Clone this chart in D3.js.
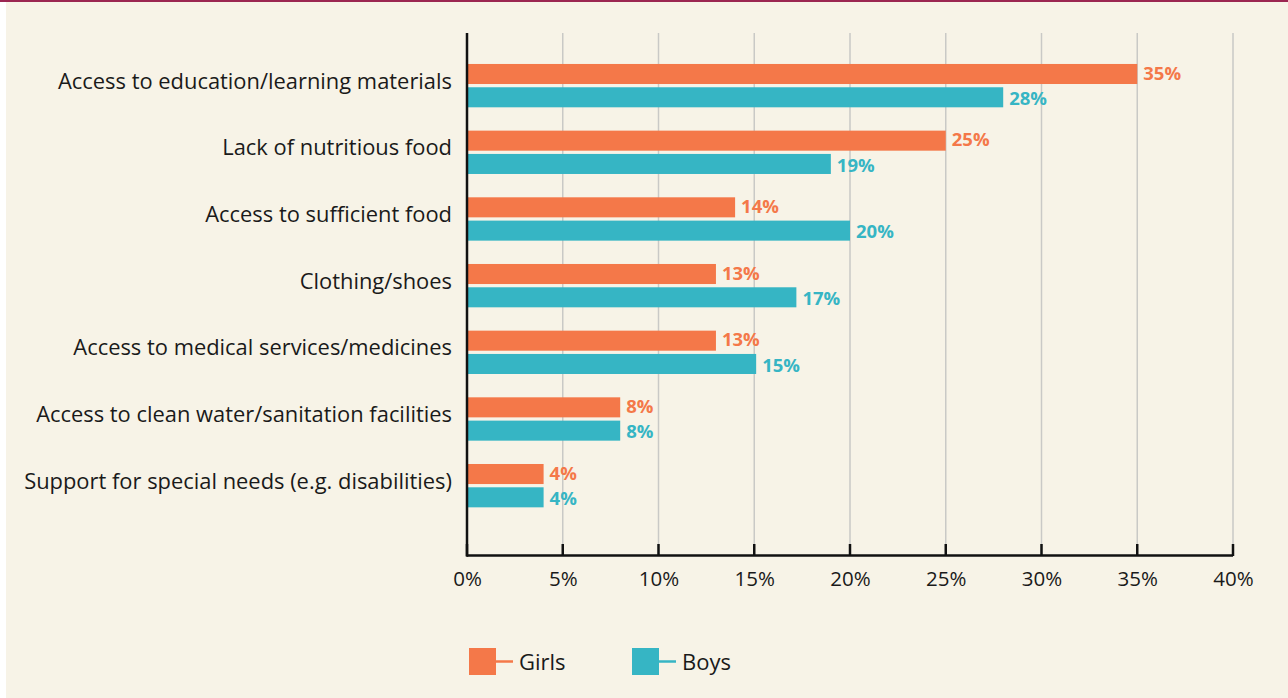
<!DOCTYPE html>
<html>
<head>
<meta charset="utf-8">
<script src="https://cdn.jsdelivr.net/npm/d3@7"></script>
<style>
  body { margin: 0; background: #ffffff; }
  text { font-family: "Open Sans", "Noto Sans", sans-serif; }
</style>
</head>
<body>
<script>
// DATA
const categories = [
    "Access to education/learning materials",
    "Lack of nutritious food",
    "Access to sufficient food",
    "Clothing/shoes",
    "Access to medical services/medicines",
    "Access to clean water/sanitation facilities",
    "Support for special needs (e.g. disabilities)"
];
const seriesNames = ["Girls", "Boys"];
const girls = [35, 25, 14, 13, 13, 8, 4];
const boys = [28, 19, 20, 17.2, 15.1, 8, 4];
const girlsLabels = ["35%", "25%", "14%", "13%", "13%", "8%", "4%"];
const boysLabels = ["28%", "19%", "20%", "17%", "15%", "8%", "4%"];
const xTicks = [0, 5, 10, 15, 20, 25, 30, 35, 40];

const colors = {Girls: "#f47849", Boys: "#36b5c4"};

// DIMENSIONS
const W = 1288, H = 698;
const margin = {left: 467, right: 55, top: 33, bottom: 142};

const svg = d3.select("body").append("svg")
    .attr("width", W)
    .attr("height", H);

// BACKGROUND + TOP BORDER
svg.append("rect").attr("x", 6).attr("y", 0).attr("width", W - 6).attr("height", H).attr("fill", "#f7f3e7");
svg.append("rect").attr("x", 0).attr("y", 0).attr("width", W).attr("height", 2).attr("fill", "#9b2651");

// SCALES
const x = d3.scaleLinear().domain([0, 40]).range([467, 1233]);

const y = d3.scaleBand()
    .domain(categories)
    .range([52.3, 519])
    .paddingInner(0.35)
    .paddingOuter(0.175);

const ySub = d3.scaleBand()
    .domain(seriesNames)
    .range([0, y.bandwidth()])
    .paddingInner(0.14);

// GRIDLINES
svg.append("g").selectAll("line")
    .data(xTicks.slice(1))
    .join("line")
    .attr("x1", d => x(d)).attr("x2", d => x(d))
    .attr("y1", margin.top).attr("y2", 556)
    .attr("stroke", "#c9c9c6")
    .attr("stroke-width", 1.5);

// BARS
const rows = categories.map((c, i) => ({
    cat: c,
    vals: [
        {s: "Girls", v: girls[i], lab: girlsLabels[i]},
        {s: "Boys", v: boys[i], lab: boysLabels[i]}
    ]
}));

const grp = svg.append("g").selectAll("g")
    .data(rows)
    .join("g")
    .attr("transform", d => `translate(0, ${y(d.cat)})`);

grp.selectAll("rect")
    .data(d => d.vals)
    .join("rect")
    .attr("x", x(0))
    .attr("y", d => ySub(d.s))
    .attr("width", d => x(d.v) - x(0))
    .attr("height", ySub.bandwidth())
    .attr("fill", d => colors[d.s]);

// value labels, nudged apart a touch so the pair doesn't collide
grp.selectAll("text.val")
    .data(d => d.vals)
    .join("text")
    .attr("class", "val")
    .attr("x", d => x(d.v) + 6)
    .attr("y", d => ySub(d.s) + ySub.bandwidth() / 2 + (d.s === "Girls" ? -1 : 1))
    .attr("dy", "0.36em")
    .attr("font-size", 18.5)
    .attr("font-weight", "bold")
    .attr("fill", d => colors[d.s])
    .text(d => d.lab);

// CATEGORY LABELS
svg.append("g").selectAll("text")
    .data(categories)
    .join("text")
    .attr("x", 452)
    .attr("y", d => y(d) + y.bandwidth() / 2 - 4.5)
    .attr("dy", "0.35em")
    .attr("text-anchor", "end")
    .attr("font-size", 21.9)
    .attr("fill", "#1a1a1a")
    .text(d => d);

// X AXIS
const xAxis = d3.axisBottom(x)
    .tickValues(xTicks)
    .tickSize(0)
    .tickPadding(15)
    .tickFormat(d => d + "%");

const ax = svg.append("g")
    .attr("transform", "translate(0, 556)")
    .call(xAxis);
ax.select(".domain").remove();
ax.selectAll("text")
    .attr("font-size", 20.5)
    .attr("font-family", "'Open Sans', sans-serif")
    .attr("fill", "#1a1a1a");

// tick marks going up
svg.append("g").selectAll("line")
    .data(xTicks)
    .join("line")
    .attr("x1", d => x(d)).attr("x2", d => x(d))
    .attr("y1", 544).attr("y2", 556)
    .attr("stroke", "#111")
    .attr("stroke-width", 2.5);

// axis lines
svg.append("line")
    .attr("x1", x(0)).attr("x2", x(40))
    .attr("y1", 555.5).attr("y2", 555.5)
    .attr("stroke", "#111").attr("stroke-width", 2.5);
svg.append("line")
    .attr("x1", x(0)).attr("x2", x(0))
    .attr("y1", margin.top).attr("y2", 556.7)
    .attr("stroke", "#111").attr("stroke-width", 2.5);

// LEGEND
const legendX = [469, 632];
const lg = svg.append("g").selectAll("g")
    .data(seriesNames)
    .join("g")
    .attr("transform", (d, i) => `translate(${legendX[i]}, 648)`);
lg.append("rect")
    .attr("width", 27).attr("height", 27)
    .attr("fill", d => colors[d]);
lg.append("line")
    .attr("x1", 27).attr("x2", 44)
    .attr("y1", 13.5).attr("y2", 13.5)
    .attr("stroke", d => colors[d])
    .attr("stroke-width", 2.5);
lg.append("text")
    .attr("x", 50)
    .attr("y", 21.5)
    .attr("font-size", 22)
    .attr("fill", "#1a1a1a")
    .text(d => d);
</script>
</body>
</html>
